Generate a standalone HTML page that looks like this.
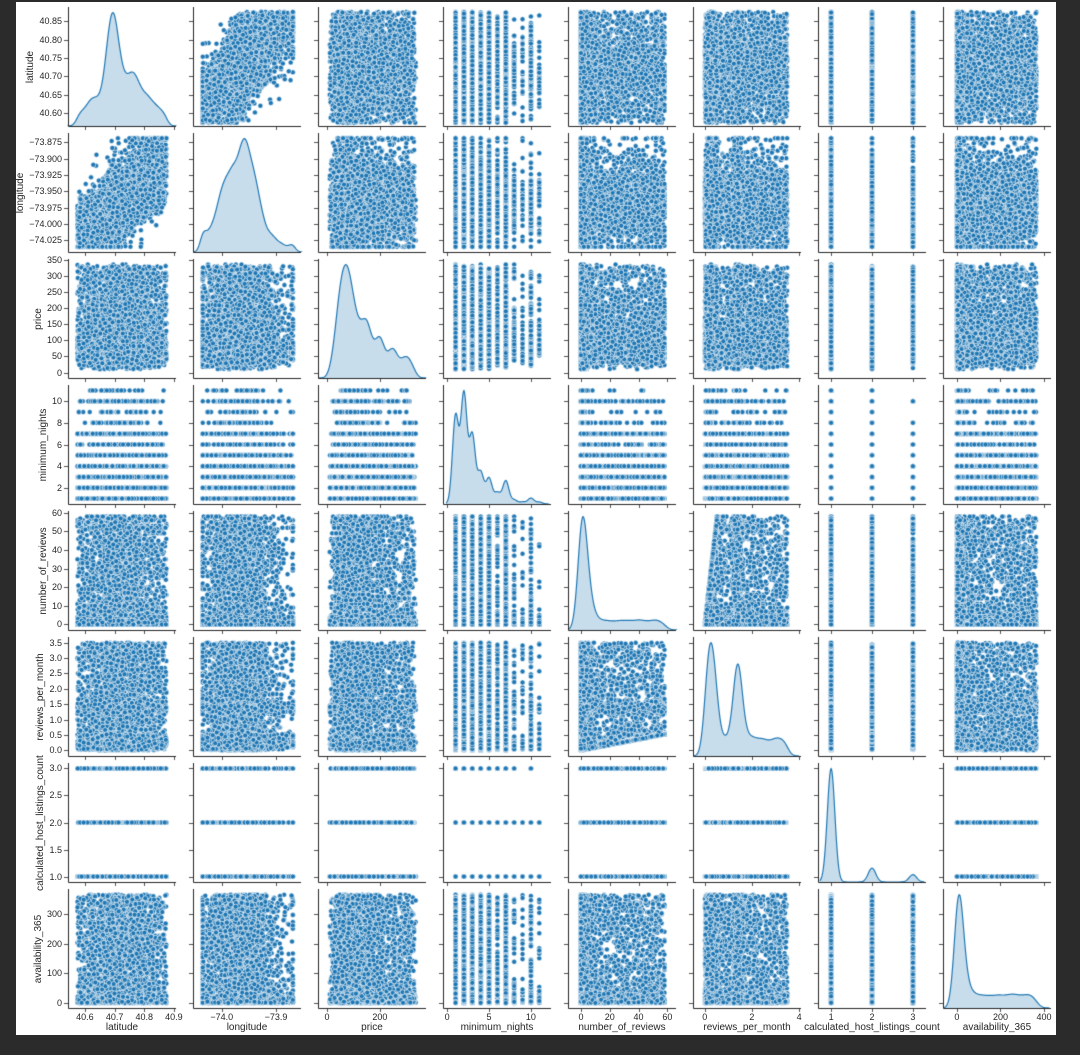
<!DOCTYPE html>
<html><head><meta charset="utf-8">
<style>
html,body{margin:0;padding:0;background:#2b2b2b;}
#wrap{position:relative;width:1080px;height:1055px;overflow:hidden;background:#2b2b2b;}
#paper{position:absolute;left:16px;top:2px;width:1040px;height:1033px;background:#fff;}
canvas{position:absolute;left:0;top:0;}
.t{position:absolute;font-family:"Liberation Sans",sans-serif;font-size:9px;color:#262626;white-space:nowrap;line-height:10px;}
.xl{position:absolute;font-family:"Liberation Sans",sans-serif;font-size:10px;color:#262626;white-space:nowrap;line-height:12px;}
.yl{position:absolute;font-family:"Liberation Sans",sans-serif;font-size:10px;color:#262626;white-space:nowrap;line-height:12px;transform:translate(-50%,-50%) rotate(-90deg);}
</style></head>
<body><div id="wrap"><div id="paper"></div><canvas id="cv" width="1080" height="1055"></canvas></div>
<script>
(function(){
var names=["latitude","longitude","price","minimum_nights","number_of_reviews","reviews_per_month","calculated_host_listings_count","availability_365"];
var xl=[[40.543,40.907],[-74.053,-73.854],[-34,374],[-0.5,12.4],[-9,66],[-0.5,4.08],[0.68,3.32],[-64,432]];
var yl=[[40.566,40.888],[-74.043,-73.861],[-17,352],[0.5,11.5],[-3,61],[-0.18,3.68],[0.9,3.1],[-17,384]];
var xt=[[[40.6,"40.6"],[40.7,"40.7"],[40.8,"40.8"],[40.9,"40.9"]],[[-74.0,"\u221274.0"],[-73.9,"\u221273.9"]],[[0,"0"],[200,"200"]],[[0,"0"],[5,"5"],[10,"10"]],[[0,"0"],[20,"20"],[40,"40"],[60,"60"]],[[0,"0"],[2,"2"],[4,"4"]],[[1,"1"],[2,"2"],[3,"3"]],[[0,"0"],[200,"200"],[400,"400"]]];
var yt=[[[40.60,"40.60"],[40.65,"40.65"],[40.70,"40.70"],[40.75,"40.75"],[40.80,"40.80"],[40.85,"40.85"]],
[[-74.025,"\u221274.025"],[-74.0,"\u221274.000"],[-73.975,"\u221273.975"],[-73.95,"\u221273.950"],[-73.925,"\u221273.925"],[-73.9,"\u221273.900"],[-73.875,"\u221273.875"]],
[[0,"0"],[50,"50"],[100,"100"],[150,"150"],[200,"200"],[250,"250"],[300,"300"],[350,"350"]],
[[2,"2"],[4,"4"],[6,"6"],[8,"8"],[10,"10"]],
[[0,"0"],[10,"10"],[20,"20"],[30,"30"],[40,"40"],[50,"50"],[60,"60"]],
[[0,"0.0"],[0.5,"0.5"],[1,"1.0"],[1.5,"1.5"],[2,"2.0"],[2.5,"2.5"],[3,"3.0"],[3.5,"3.5"]],
[[1,"1.0"],[1.5,"1.5"],[2,"2.0"],[2.5,"2.5"],[3,"3.0"]],
[[0,"0"],[100,"100"],[200,"200"],[300,"300"]]];
function CL(c){return 68+125*c;} function RT(r){return 7+126*r;}
var W=108,H=119;
function X(c,v){return CL(c)+(v-xl[c][0])/(xl[c][1]-xl[c][0])*W;}
function Y(r,v){return RT(r)+H-(v-yl[r][0])/(yl[r][1]-yl[r][0])*H;}
var s=12345;function rnd(){s|=0;s=s+0x6D2B79F5|0;var t=Math.imul(s^s>>>15,1|s);t=t+Math.imul(t^t>>>7,61|t)^t;return((t^t>>>14)>>>0)/4294967296;}
function gauss(){var u=rnd()||1e-9,v=rnd();return Math.sqrt(-2*Math.log(u))*Math.cos(2*Math.PI*v);}
function clip(v,a,b){return v<a?a:(v>b?b:v);}
function pick(p){var u=rnd(),a=0;for(var i=0;i<p.length;i++){a+=p[i];if(u<a)return i;}return p.length-1;}
var N=6000,D=[];
for(var i=0;i<N;i++){
 var lat;
 if(rnd()<0.3)lat=40.575+rnd()*0.3;
 else{var k=pick([0.12,0.38,0.22,0.14,0.14]);
 lat=[40.64,40.69,40.715,40.76,40.80][k]+gauss()*[0.03,0.015,0.02,0.015,0.025][k];}
 lat=clip(lat,40.575,40.875);
 var lon=-73.965+0.45*(lat-40.72)+gauss()*0.03;
 if(rnd()<0.5) lon=(rnd()<0.35?-73.99:-73.953)+gauss()*0.01+0.2*(lat-40.72);
 lon=clip(lon,-74.035,-73.869);
 var pr;
 var pu=rnd();
 if(pu<0.3)pr=10+rnd()*320;
 else if(pu<0.85)pr=clip(Math.exp(Math.log(80)+gauss()*0.45),10,335);
 else pr=[150,200,250,300][pick([0.35,0.3,0.2,0.15])]+gauss()*8;
 pr=clip(pr,10,335);
 var mn=1+pick([0.24,0.3,0.18,0.08,0.07,0.03,0.06,0.012,0.006,0.015,0.007]);
 var rv=rnd()<0.62?Math.floor(-Math.log(rnd())*2.5):Math.floor(rnd()*59);rv=clip(rv,0,58);
 var u=rnd(),rp;
 if(u<0.35)rp=Math.abs(0.2+gauss()*0.15);else if(u<0.6)rp=1.4+gauss()*0.1;else rp=rnd()*3.5;
 rp=clip(Math.max(rp,rv*0.009+0.01*rnd()),0,3.5);
 var ch=1+pick([0.85,0.1,0.05]);
 var av=rnd()<0.55?-Math.log(rnd())*12:rnd()*365;av=clip(av,0,365);
 D.push([lat,lon,pr,mn,rv,rp,ch,av]);
}
var cv=document.getElementById("cv"),g=cv.getContext("2d");
var wrap=document.getElementById("wrap");
function txt(cls,x,y,str,al){var d=document.createElement("div");d.className=cls;d.textContent=str;d.style.left=x+"px";d.style.top=y+"px";if(al)d.style.transform=al;wrap.appendChild(d);return d;}
function drawDiag(c,L,T){
  var vals=[],q;for(q=0;q<N;q++)vals.push(D[q][c]);
  var m=0;for(q=0;q<N;q++)m+=vals[q];m/=N;var sd=0;for(q=0;q<N;q++)sd+=(vals[q]-m)*(vals[q]-m);sd=Math.sqrt(sd/N);
  var bw=sd*Math.pow(N,-0.2),G=220,xs=[],ys=[],mx=0;
  var lo=Math.min.apply(null,vals)-3*bw,hi=Math.max.apply(null,vals)+3*bw;
  for(var j=0;j<=G;j++){var xv=lo+(hi-lo)*j/G,sum=0;for(q=0;q<N;q++){var z=(xv-vals[q])/bw;if(z<6&&z>-6)sum+=Math.exp(-0.5*z*z);}xs.push(xv);ys.push(sum);if(sum>mx)mx=sum;}
  var ymax=mx*1.05;
  var py=function(v){return T+H-v/ymax*H;};
  g.beginPath();g.moveTo(X(c,xs[0]),T+H);for(j=0;j<=G;j++)g.lineTo(X(c,xs[j]),py(ys[j]));g.lineTo(X(c,xs[G]),T+H);g.closePath();
  g.fillStyle="rgba(31,119,180,0.25)";g.fill();
  g.beginPath();for(j=0;j<=G;j++){var a=X(c,xs[j]),b=py(ys[j]);if(j)g.lineTo(a,b);else g.moveTo(a,b);}
  g.strokeStyle="#1f77b4";g.lineWidth=1.2;g.stroke();
}
for(var r=0;r<8;r++)for(var c=0;c<8;c++){
 var L=CL(c),T=RT(r);
 g.save();g.beginPath();g.rect(L-1,T-4,W+6,H+4);g.clip();
 if(r!=c){
  g.fillStyle="#1f77b4";g.strokeStyle="#ffffff";g.lineWidth=0.6;
  for(var i=0;i<N;i++){var p=D[i];g.beginPath();g.arc(X(c,p[c]),Y(r,p[r]),2.5,0,6.2832);g.fill();g.stroke();}
 }else{ drawDiag(c,L,T); }
 g.restore();
 g.strokeStyle="#262626";g.lineWidth=1;
 g.beginPath();g.moveTo(L+0.5,T);g.lineTo(L+0.5,T+H+0.5);g.lineTo(L+W,T+H+0.5);g.stroke();
 g.lineWidth=0.8;g.beginPath();
 for(var e=0;e<xt[c].length;e++){var a=Math.round(X(c,xt[c][e][0]))+0.5;g.moveTo(a,T+H);g.lineTo(a,T+H+4);}
 for(e=0;e<yt[r].length;e++){var b=Math.round(Y(r,yt[r][e][0]))+0.5;if(b>T-1&&b<T+H+2){g.moveTo(L,b);g.lineTo(L-4,b);}}
 g.stroke();
}
for(var c2=0;c2<8;c2++){
 for(var e2=0;e2<xt[c2].length;e2++) txt("t",X(c2,xt[c2][e2][0]),1012,xt[c2][e2][1],"translateX(-50%)");
 txt("xl",CL(c2)+W/2,1022,names[c2],"translateX(-50%)");
}
for(var r2=0;r2<8;r2++){
 var maxw=0;
 for(var e3=0;e3<yt[r2].length;e3++){var d=txt("t",0,Y(r2,yt[r2][e3][0])-5,yt[r2][e3][1]);var w=d.getBoundingClientRect().width;if(w>maxw)maxw=w;d.style.left=(62-w)+"px";}
 var dl=document.createElement("div");dl.className="yl";dl.textContent=names[r2];dl.style.left=(62-maxw-8)+"px";dl.style.top=(RT(r2)+H/2)+"px";wrap.appendChild(dl);
}
})();
</script></body></html>
